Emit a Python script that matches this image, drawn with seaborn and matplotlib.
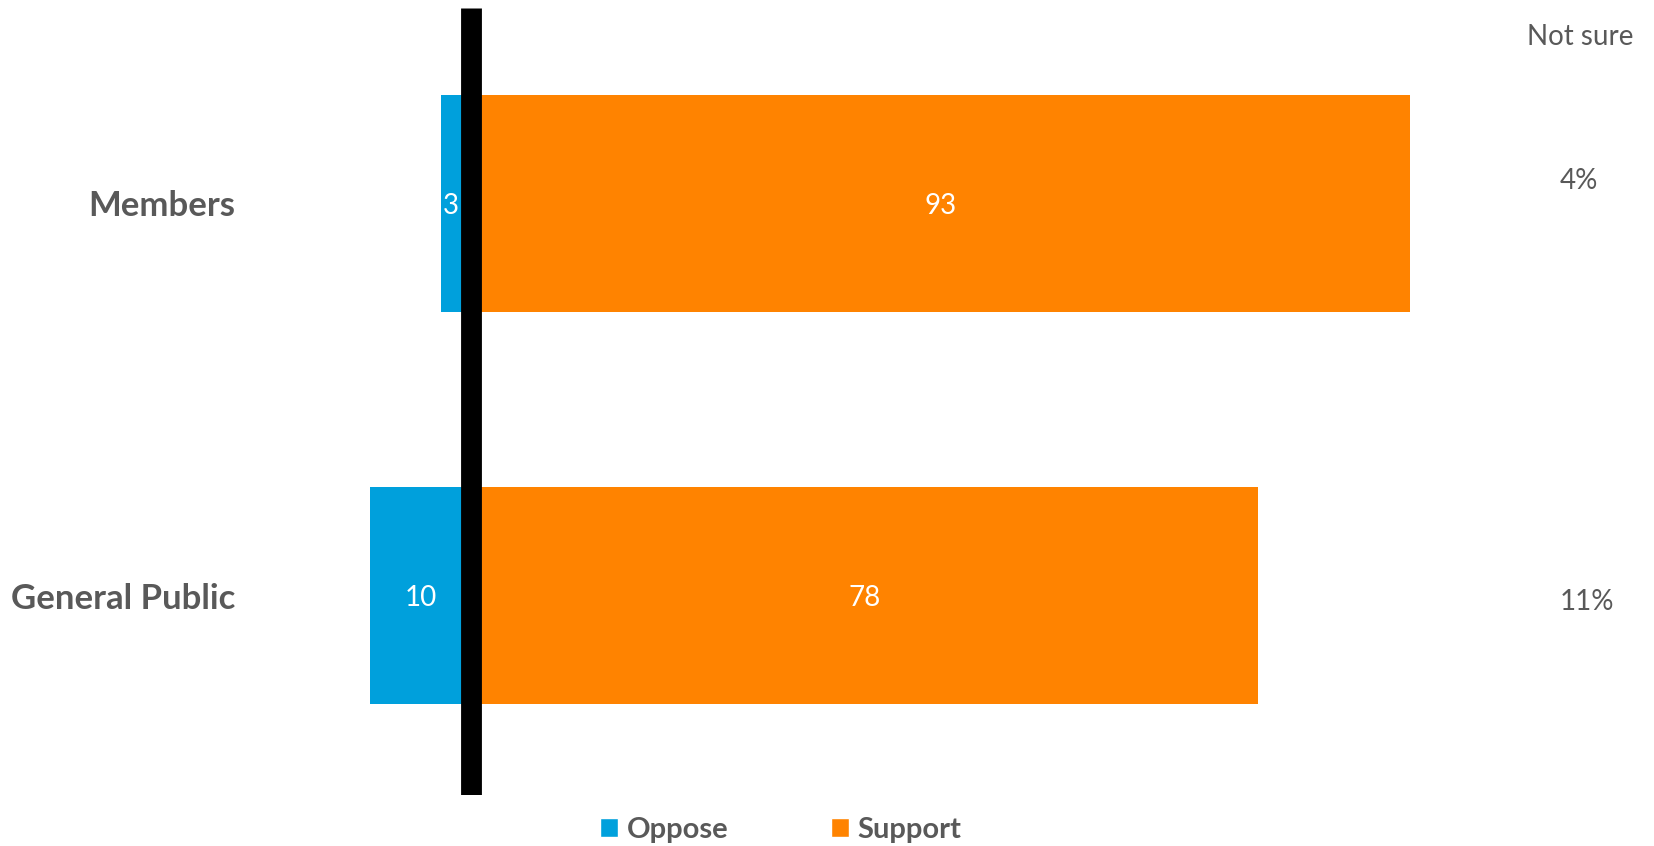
import pandas as pd
import seaborn as sns
from matplotlib import pyplot as plt
from matplotlib.patches import Patch

groups = ["Members", "General Public"]
oppose = [3, 10]
support = [93, 78]
not_sure = [4, 11]

BLUE = "#00A0DC"
ORANGE = "#FF8300"
GRAY = "#595959"

sns.set_style("white")
plt.rcParams['font.family'] = ['Lato', 'DejaVu Sans']

df = pd.DataFrame({"group": groups, "oppose": oppose, "support": support})
df["oppose_neg"] = -df["oppose"]

W, H = 1654, 846
fig = plt.figure(figsize=(W / 100, H / 100), dpi=100)
# axes placed in pixel terms
ax = fig.add_axes([260 / W, 1 - 795 / H, (W - 260) / W, (795 - 8) / H])

sns.barplot(data=df, x="support", y="group", orient="h", color=ORANGE,
            width=0.5536, linewidth=0, saturation=1, ax=ax)
sns.barplot(data=df, x="oppose_neg", y="group", orient="h", color=BLUE,
            width=0.5536, linewidth=0, saturation=1, ax=ax)

# bar labels, nudged down a touch
for cont, vals in zip(ax.containers, [support, oppose]):
    anns = ax.bar_label(cont, labels=[str(v) for v in vals], label_type="center",
                        color="white", fontsize=20, zorder=5)
    for a in anns:
        a.xyann = (0, -2)
# the tiny oppose label sits left of the zero line
ax.texts[-2].xyann = (-4, -2)

# zero line
ax.axvline(0, color="black", lw=15, solid_capstyle="butt", zorder=4)

ax.set_xlim(-20.94, 117.2)
ax.set_ylim(1.5089, -0.4987)

# not sure column
ax.text(109.9, -0.4247, "Not sure", ha="center", va="center", fontsize=20, color=GRAY)
for i, v in enumerate(not_sure):
    ax.text(107.9, [-0.0574, 1.0166][i], f"{v}%", ha="left", va="center",
            fontsize=20, color=GRAY)

ax.set_xlabel("")
ax.set_ylabel("")
ax.set_xticks([])
ax.tick_params(axis="y", length=0, pad=18)
for lab in ax.get_yticklabels():
    lab.set_fontsize(25)
    lab.set_fontweight("bold")
    lab.set_color(GRAY)
sns.despine(ax=ax, left=True, bottom=True)

handles = [Patch(facecolor=BLUE, label="Oppose"), Patch(facecolor=ORANGE, label="Support")]
fig.legend(handles=handles, loc="center", bbox_to_anchor=(781 / W, 1 - 830 / H),
           ncol=2, frameon=False, handlelength=0.62, handleheight=0.62,
           handletextpad=0.3, columnspacing=3.5, labelcolor=GRAY,
           prop={"weight": "bold", "size": 21})

fig.savefig("out.png", dpi=100)
